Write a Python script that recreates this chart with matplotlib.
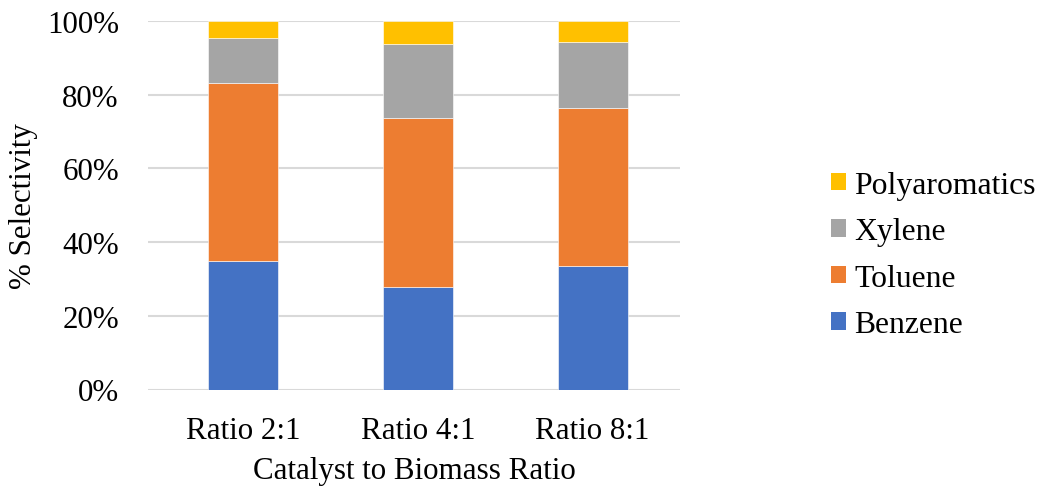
import numpy as np
import matplotlib
matplotlib.use("Agg")
from matplotlib import pyplot as plt
from matplotlib.patches import Patch
from matplotlib.ticker import PercentFormatter

ratios = ["Ratio 2:1", "Ratio 4:1", "Ratio 8:1"]
benzene = [35.0, 27.9, 33.5]
toluene = [48.1, 45.7, 42.9]
xylene = [12.3, 20.2, 17.8]
polyaromatics = [4.6, 6.2, 5.8]

series = [
    ("Benzene", benzene, "#4472C4"),
    ("Toluene", toluene, "#ED7D31"),
    ("Xylene", xylene, "#A5A5A5"),
    ("Polyaromatics", polyaromatics, "#FFC000"),
]

plt.rcParams["font.family"] = ["Liberation Serif", "DejaVu Serif"]
FS = 22.3

fig = plt.figure(figsize=(10.39, 4.89), dpi=100)
W, H = 1039, 489
ax = fig.add_axes([148 / W, 1 - 390.5 / H, (680 - 148) / W, (390.5 - 22) / H])

x = np.arange(len(ratios))
bottom = np.zeros(len(ratios))
for name, vals, color in series:
    ax.bar(x, vals, width=0.40, bottom=bottom, color=color, label=name,
           edgecolor="white", linewidth=0.4, zorder=3)
    bottom += np.array(vals)

ax.set_xlim(-0.544, 2.5)
ax.set_ylim(0, 100)
ax.set_yticks(np.arange(0, 101, 20))
ax.yaxis.set_major_formatter(PercentFormatter(decimals=0))
ax.set_xticks(x)
ax.set_xticklabels(ratios)
ax.tick_params(axis="both", length=0, labelsize=FS)
ax.tick_params(axis="y", pad=21)
ax.tick_params(axis="x", pad=19)
ax.grid(axis="y", color="#D9D9D9", linewidth=1.5, zorder=0)
for side in ["top", "right", "left", "bottom"]:
    ax.spines[side].set_visible(False)

ax.set_ylabel("% Selectivity", fontsize=FS, labelpad=6)
ax.set_xlabel("Catalyst to Biomass Ratio", fontsize=FS, labelpad=8)

handles = [Patch(facecolor=c, label=n) for n, v, c in series][::-1]
fig.legend(handles=handles, loc="center left", bbox_to_anchor=(818 / W, 1 - 256 / H),
           frameon=False, fontsize=22.8, handlelength=0.48, handleheight=0.48,
           handletextpad=0.26, labelspacing=0.55, borderaxespad=0)

fig.savefig("out.png", dpi=100)
